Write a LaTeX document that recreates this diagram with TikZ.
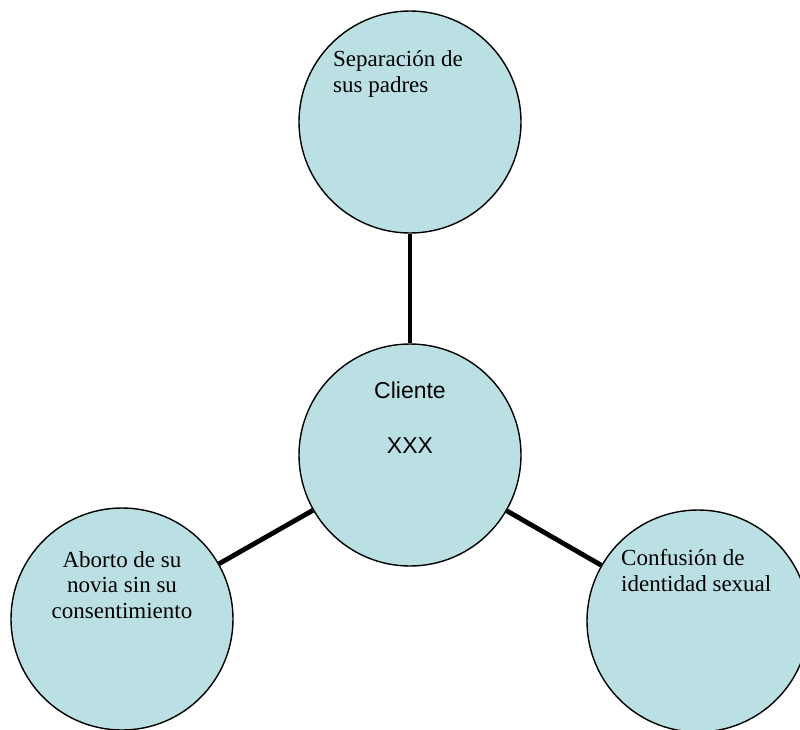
\documentclass[tikz,border=0pt]{standalone}
\usepackage{fontspec}
\setmainfont{Liberation Serif}
\newfontfamily\clientfont{Liberation Sans}
\usetikzlibrary{positioning}
\definecolor{bubble}{RGB}{187,224,227}

\begin{document}
\begin{tikzpicture}[
    x=1pt, y=-1pt,
    issue/.style={circle, draw=black, line width=1.4pt, fill=bubble, minimum size=222pt, inner sep=0pt},
    issuelab/.style={inner sep=0pt, font=\fontsize{23}{25.5}\selectfont},
    tie/.style={line width=4.8pt, black},
]
    \clip (0,0) rectangle (800,729);

    % circles
    \node[issue] (client) at (410,455) {};
    \node[issue] (parents) at (410,122) {};
    \node[issue] (abortion) at (122,619) {};
    \node[issue] (identity) at (698,621) {};

    % ties to the client
    \draw[tie] (client) -- (parents);
    \draw[tie] (client) -- (abortion);
    \draw[tie] (client) -- (identity);

    % labels (base = last line)
    \node[issuelab, font=\clientfont\fontsize{23}{27}\selectfont, anchor=base, align=center] (clientlab) at (410,453) {Cliente\\[28pt]XXX};
    \node[issuelab, anchor=base west, align=left] (parentslab) at (333,92) {Separación de\\sus padres};
    \node[issuelab, anchor=base, align=center] (abortionlab) at (122,618) {Aborto de su\\novia sin su\\consentimiento};
    \node[issuelab, anchor=base west, align=left] (identitylab) at (621,591) {Confusión de\\identidad sexual};
\end{tikzpicture}
\end{document}
